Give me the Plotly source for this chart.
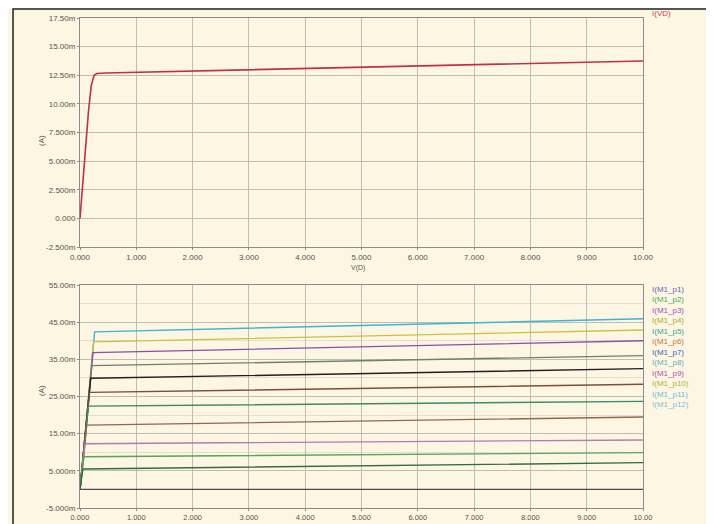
import plotly.graph_objects as go
from plotly.subplots import make_subplots

# ---------------- data ----------------
x_ticks = [0, 1, 2, 3, 4, 5, 6, 7, 8, 9, 10]
x_ticktext = ["0.000", "1.000", "2.000", "3.000", "4.000", "5.000",
              "6.000", "7.000", "8.000", "9.000", "10.00"]

top_yticks = [-0.0025, 0.0, 0.0025, 0.005, 0.0075, 0.01, 0.0125, 0.015, 0.0175]
top_yticktext = ["-2.500m", "0.000", "2.500m", "5.000m", "7.500m",
                 "10.00m", "12.50m", "15.00m", "17.50m"]

bot_yticks = [-0.005, 0.005, 0.015, 0.025, 0.035, 0.045, 0.055]
bot_yticktext = ["-5.000m", "5.000m", "15.00m", "25.00m", "35.00m", "45.00m", "55.00m"]

# top curve (V, I)
top_v = [0.0, 0.05, 0.10, 0.15, 0.20, 0.25, 0.30, 0.45, 10.0]
top_i = [0.0, 0.0031, 0.0063, 0.0093, 0.0116, 0.0125, 0.01265, 0.0127, 0.01375]
top_name = "I(VD)"

# bottom family: current at knee, knee voltage, current at 10 V
bot_names = ["I(M1_p1)", "I(M1_p2)", "I(M1_p3)", "I(M1_p4)", "I(M1_p5)", "I(M1_p6)",
             "I(M1_p7)", "I(M1_p8)", "I(M1_p9)", "I(M1_p10)", "I(M1_p11)", "I(M1_p12)"]
bot_knee_v = [0.26, 0.24, 0.23, 0.21, 0.19, 0.17, 0.15, 0.12, 0.09, 0.07, 0.05, 0.0]
bot_knee_i = [0.0424, 0.0397, 0.0368, 0.0333, 0.0299, 0.0261, 0.0224, 0.0173,
              0.0123, 0.0088, 0.0055, 0.0]
bot_end_i = [0.0459, 0.0429, 0.0400, 0.0360, 0.0325, 0.0283, 0.0237, 0.0195,
             0.0133, 0.0099, 0.0072, 0.0]
bot_colors = ["#3fb4d4", "#c9c23e", "#8a4fa8", "#6f806f", "#1e1e28", "#7b4e3e",
              "#3a8a6e", "#8c6a4e", "#b27ab8", "#56a656", "#2f6e3e", "#4a4a55"]
legend_colors = ["#6a5fc0", "#4aa860", "#a050c0", "#b0a830", "#40a0a0", "#d07040",
                 "#4060c0", "#60b0c0", "#b050b0", "#a8b830", "#70c0d8", "#80c0e0"]

# ---------------- figure ----------------
fig = make_subplots(rows=2, cols=1, vertical_spacing=0.0)

fig.add_trace(go.Scatter(x=top_v, y=top_i, mode="lines", name=top_name,
                         line=dict(color="#c0304a", width=1.6), showlegend=False),
              row=1, col=1)

for n, kv, ki, ei, c in zip(bot_names, bot_knee_v, bot_knee_i, bot_end_i, bot_colors):
    fig.add_trace(go.Scatter(x=[0.0, kv, 10.0], y=[0.0, ki, ei], mode="lines", name=n,
                             line=dict(color=c, width=1.4), showlegend=False),
                  row=2, col=1)

# geometry: page has an 8px body margin, so figure = window - 8
OFF = 8
W, H = 714 - OFF, 524 - OFF
L, R, T, B = 80 - OFF, 714 - 643, 18 - OFF, 524 - 508
PW, PH = W - L - R, H - T - B

def fy(px):  # px: screenshot pixel row
    return (H - B - (px - OFF)) / PH

def fx(px):  # px: screenshot pixel column
    return ((px - OFF) - L) / PW

axis_common = dict(showline=True, linecolor="#8c8c8c", linewidth=1, mirror=True,
                   showgrid=True, gridcolor="#bdbdb5", gridwidth=1, zeroline=False,
                   ticks="outside", ticklen=2, tickcolor="#8c8c8c", automargin=False,
                   tickfont=dict(family="Liberation Sans", size=8, color="#555555"))

fig.update_xaxes(range=[0, 10], tickvals=x_ticks, ticktext=x_ticktext, **axis_common)
fig.update_xaxes(domain=[0, 1], row=1, col=1)
fig.update_xaxes(tickfont=dict(family="Liberation Sans", size=7.5, color="#555555"),
                 row=2, col=1)
fig.update_yaxes(**axis_common)
fig.update_yaxes(range=[-0.0025, 0.0175], tickvals=top_yticks, ticktext=top_yticktext,
                 domain=[fy(247), 1.0], row=1, col=1)
fig.update_yaxes(range=[-0.005, 0.055], tickvals=bot_yticks, ticktext=bot_yticktext,
                 domain=[0.0, fy(285)], row=2, col=1,
                 minor=dict(dtick=0.005, tick0=0.0, showgrid=True, gridcolor="#e6ddd0"))

annotations = []
annotations.append(dict(x=fx(650), y=fy(13), xref="paper", yref="paper", text=top_name,
                        showarrow=False, xanchor="left", yanchor="middle",
                        font=dict(family="Liberation Sans", size=8, color="#d0405a")))
for i, (n, c) in enumerate(zip(bot_names, legend_colors)):
    annotations.append(dict(x=fx(650), y=fy(289 + 10.5 * i), xref="paper", yref="paper",
                            text=n, showarrow=False, xanchor="left", yanchor="middle",
                            font=dict(family="Liberation Sans", size=8, color=c)))
annotations.append(dict(x=fx(358), y=fy(268), xref="paper", yref="paper", text="V(D)",
                        showarrow=False, font=dict(family="Liberation Sans", size=7,
                                                   color="#555555")))
for ypx in (133, 398):
    annotations.append(dict(x=fx(35), y=fy(ypx), xref="paper", yref="paper", text="(A)",
                            showarrow=False, textangle=-90,
                            font=dict(family="Liberation Sans", size=8, color="#555555")))

fig.update_layout(
    width=W, height=H,
    margin=dict(l=L, r=R, t=T, b=B, autoexpand=False),
    paper_bgcolor="#fdf6e2",
    plot_bgcolor="#fffaea",
    annotations=annotations,
    shapes=[dict(type="rect", xref="paper", yref="paper", layer="below",
                 x0=fx(13), x1=fx(730), y0=fy(540), y1=fy(9),
                 fillcolor="#fdf6e2", line=dict(color="#222222", width=1.5))],
)

fig.write_html("out.html")
